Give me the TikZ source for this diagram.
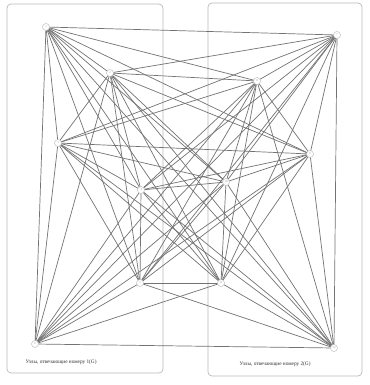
\documentclass[tikz,border=0pt]{standalone}
\usepackage{fontspec}
\setmainfont{Liberation Serif}
\begin{document}
\begin{tikzpicture}[x=1pt,y=-1pt,
  vert/.style={circle,draw=gray!50,fill=white,line width=0.5pt,minimum size=7pt,inner sep=0pt,font=\fontsize{3}{3}\selectfont,text=gray!80},
  edge/.style={draw=black!55,line width=0.7pt},
  group/.style={draw=gray!55,line width=0.7pt,rounded corners=4pt},
  captext/.style={font=\fontsize{5.3}{6}\selectfont,text=black!80}]
\useasboundingbox (0,0) rectangle (369,385);
\fill[white] (0,0) rectangle (369,385);
\draw[group] (7,4) rectangle (163,373);
\draw[group] (208,3) rectangle (362,376);
\coordinate (p1) at (46,27);
\coordinate (p2) at (110,73);
\coordinate (p3) at (58,143);
\coordinate (p4) at (141,190);
\coordinate (p5) at (140,283);
\coordinate (p6) at (35,344);
\coordinate (p7) at (337,35);
\coordinate (p8) at (257,81);
\coordinate (p9) at (310,154);
\coordinate (p10) at (226,182);
\coordinate (p11) at (221,283);
\coordinate (p12) at (334,348);
\foreach \i in {1,...,11}{
  \pgfmathtruncatemacro{\s}{\i+1}
  \foreach \j in {\s,...,12}{
    \draw[edge] (p\i) -- (p\j);
  }
}
\foreach \i/\lab in {1/1,2/2,3/3,4/4,5/5,6/6,7/7,8/8,9/9,10/10,11/11,12/12}{
  \node[vert] (n\i) at (p\i) {\lab};
}
\node[captext,anchor=west] (c1) at (22,362) {Узлы, отвечающие номеру 1(G)};
\node[captext,anchor=west] (c2) at (236,364) {Узлы, отвечающие номеру 2(G)};
\end{tikzpicture}
\end{document}
